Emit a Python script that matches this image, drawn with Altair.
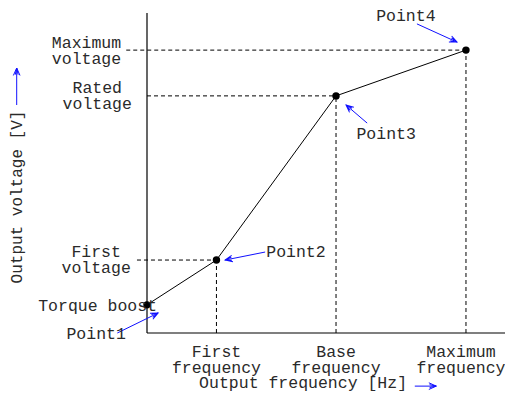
import altair as alt
import pandas as pd
import numpy as np

# plot area in abstract units (0..100 on both axes)
W, H = 358, 320
XD, YD = [0, 100], [0, 100]

# curve points
pt_name = ["Point1", "Point2", "Point3", "Point4"]
pt_x = [0.0, 19.4, 52.8, 89.1]
pt_y = [8.8, 22.8, 74.1, 88.4]

# dashed guides: horizontal start x for Point2..Point4
h_start = [-2.8, 0.0, -5.8]

# labels
lab_text = ["Maximum", "voltage", "Rated", "voltage", "First", "voltage",
            "Torque boost", "Point1", "Point2", "Point3", "Point4",
            "First", "frequency", "Base", "frequency", "Maximum", "frequency",
            "Output frequency [Hz]"]
lab_x = [-16.9, -16.9, -13.9, -13.9, -14.2, -14.2,
         -13.8, -14.2, 41.6, 66.8, 72.3,
         19.4, 19.4, 52.8, 52.8, 87.7, 87.7,
         43.6]
lab_y = [89.1, 84.1, 75.0, 70.0, 23.75, 18.75,
         6.9, -1.9, 23.75, 60.6, 97.6,
         -7.5, -12.5, -7.5, -12.5, -7.5, -12.5,
         -17.3]

ytitle = "Output voltage [V]"
ytitle_x, ytitle_y = -36.3, 42.5

# arrows (tail -> head)
ar_x1 = [-8.3, 33.0, 61.5, 75.4, 74.8, -36.4]
ar_y1 = [0.0, 25.3, 65.6, 96.6, -16.6, 71.25]
ar_x2 = [3.1, 21.8, 55.6, 86.6, 80.8, -36.4]
ar_y2 = [6.25, 22.8, 71.25, 90.9, -16.6, 82.8]

FONT = "Liberation Mono"
FS = 16.5
TXT = "#2a2a2a"
BLUE = "#1010ff"

xs = alt.Scale(domain=XD, nice=False, zero=False)
ys = alt.Scale(domain=YD, nice=False, zero=False)

pts = pd.DataFrame({"name": pt_name, "x": pt_x, "y": pt_y})

axes_df = pd.DataFrame({"x": [0, 0], "y": [0, 0], "x2": [0, 100], "y2": [100, 0]})

dash_rows = []
for i in range(1, 4):
    dash_rows.append({"x": h_start[i - 1], "x2": pt_x[i], "y": pt_y[i], "y2": pt_y[i]})
    dash_rows.append({"x": pt_x[i], "x2": pt_x[i], "y": 0, "y2": pt_y[i]})
dash_df = pd.DataFrame(dash_rows)

labels = pd.DataFrame({"t": lab_text, "x": lab_x, "y": lab_y})

ar = pd.DataFrame({"x": ar_x1, "y": ar_y1, "x2": ar_x2, "y2": ar_y2})
dxp = (ar["x2"] - ar["x"]) * W / (XD[1] - XD[0])
dyp = -(ar["y2"] - ar["y"]) * H / (YD[1] - YD[0])
ar["ang"] = (np.degrees(np.arctan2(dyp, dxp)) + 360) % 360

X = lambda f: alt.X(f, scale=xs, axis=None)
Y = lambda f: alt.Y(f, scale=ys, axis=None)

axes = alt.Chart(axes_df).mark_rule(color="black", strokeWidth=1.2).encode(
    x=X("x:Q"), y=Y("y:Q"), x2="x2:Q", y2="y2:Q")

dashes = alt.Chart(dash_df).mark_rule(color="black", strokeWidth=1, strokeDash=[4, 3]).encode(
    x=X("x:Q"), y=Y("y:Q"), x2="x2:Q", y2="y2:Q")

curve = alt.Chart(pts).mark_line(color="black", strokeWidth=1).encode(
    x=X("x:Q"), y=Y("y:Q"), order="x:Q")

dots = alt.Chart(pts).mark_point(filled=True, color="black", size=55, opacity=1).encode(
    x=X("x:Q"), y=Y("y:Q"))

text = alt.Chart(labels).mark_text(font=FONT, fontSize=FS, color=TXT,
                                   align="center", baseline="alphabetic").encode(
    x=X("x:Q"), y=Y("y:Q"), text="t:N")

yt = alt.Chart(pd.DataFrame({"t": [ytitle], "x": [ytitle_x], "y": [ytitle_y]})).mark_text(
    font=FONT, fontSize=16, color=TXT, angle=270, align="center", baseline="middle").encode(
    x=X("x:Q"), y=Y("y:Q"), text="t:N")

ar_lines = alt.Chart(ar).mark_rule(color=BLUE, strokeWidth=1).encode(
    x=X("x:Q"), y=Y("y:Q"), x2="x2:Q", y2="y2:Q")

head_path = "M-1,-0.45L0,0L-1,0.45M-0.9,-0.2L0,0L-0.9,0.2"
ar_heads = alt.Chart(ar).mark_point(shape=head_path, filled=False, color=BLUE,
                                    strokeWidth=1, size=220, opacity=1).encode(
    x=X("x2:Q"), y=Y("y2:Q"), angle=alt.Angle("ang:Q", scale=None))

chart = alt.layer(dashes, axes, curve, dots, ar_lines, ar_heads, text, yt).properties(
    width=W, height=H,
    autosize=alt.AutoSizeParams(type="none"),
    padding={"left": 139, "top": 5, "right": 0, "bottom": 60},
).configure_view(stroke=None)

chart.save("out.html", embed_options={"renderer": "svg", "actions": False})
